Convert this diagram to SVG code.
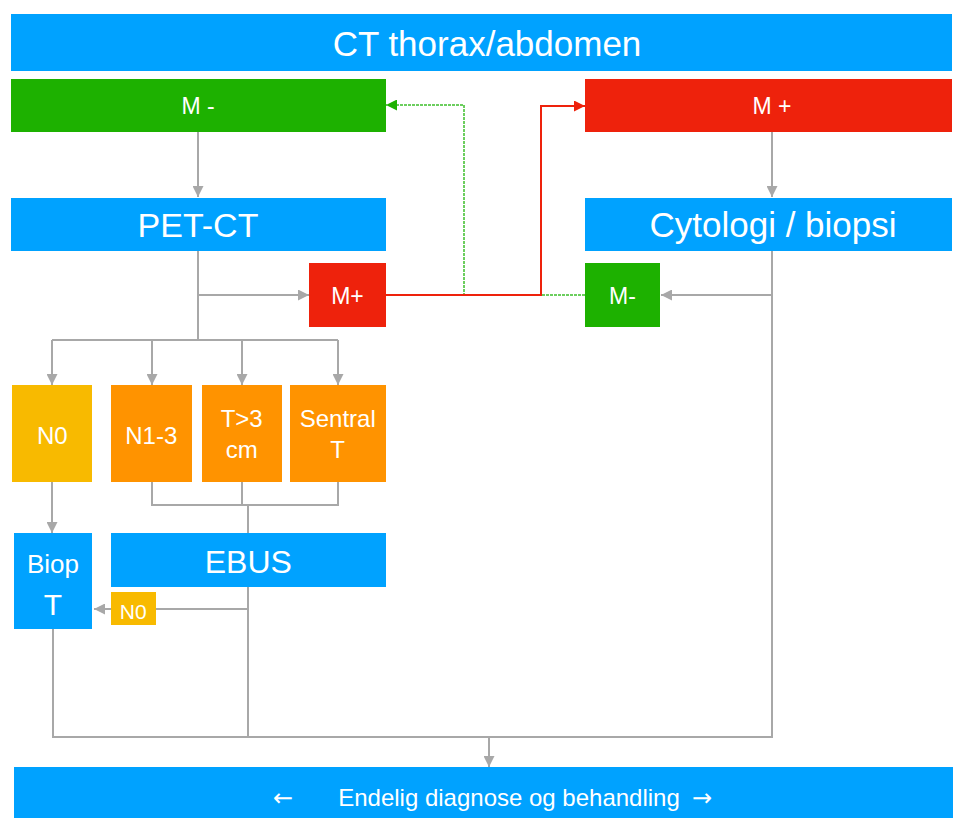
<svg xmlns="http://www.w3.org/2000/svg" width="953" height="818" viewBox="0 0 953 818">
<style>
.blue{fill:#00A2FF}.green{fill:#1DB100}.red{fill:#EE220C}.orange{fill:#FF9300}.yellow{fill:#F8BA00}
text{font-family:"Liberation Sans",Arial,Helvetica,sans-serif;fill:#fff;text-anchor:middle}
.arr{font-family:"DejaVu Sans",sans-serif}
.c{fill:none;stroke:#A8A8A8;stroke-width:2}
.cr{fill:none;stroke:#EE220C;stroke-width:2}
.cg{fill:none;stroke:#3CBF2A;stroke-width:1.5;stroke-dasharray:3 1}
</style>
<defs>
<marker id="ag" markerUnits="userSpaceOnUse" markerWidth="12" markerHeight="11" refX="11" refY="5.5" orient="auto"><path d="M0,0 L11,5.5 L0,11 z" fill="#A8A8A8"/></marker>
<marker id="ar" markerUnits="userSpaceOnUse" markerWidth="12" markerHeight="11" refX="11" refY="5.5" orient="auto"><path d="M0,0 L11,5.5 L0,11 z" fill="#EE220C"/></marker>
<marker id="agr" markerUnits="userSpaceOnUse" markerWidth="12" markerHeight="11" refX="11" refY="5.5" orient="auto"><path d="M0,0 L11,5.5 L0,11 z" fill="#1DB100"/></marker>
</defs>
<rect width="953" height="818" fill="#fff"/>
<g id="connectors">
<path class="c" d="M198,132 V197" marker-end="url(#ag)"/>
<path class="c" d="M198,251 V340"/>
<path class="c" d="M198,295 H309" marker-end="url(#ag)"/>
<path class="c" d="M52,340 H338"/>
<path class="c" d="M52,340 V385" marker-end="url(#ag)"/>
<path class="c" d="M152,340 V385" marker-end="url(#ag)"/>
<path class="c" d="M242,340 V385" marker-end="url(#ag)"/>
<path class="c" d="M338,340 V385" marker-end="url(#ag)"/>
<path class="c" d="M52,482 V533" marker-end="url(#ag)"/>
<path class="c" d="M152,482 V505 H338 V482"/>
<path class="c" d="M242,482 V505"/>
<path class="c" d="M248,505 V533"/>
<path class="c" d="M248,587 V737"/>
<path class="c" d="M248,609 H94" marker-end="url(#ag)"/>
<path class="c" d="M53,629 V737 H772 V251"/>
<path class="c" d="M489,737 V767" marker-end="url(#ag)"/>
<path class="c" d="M772,295 H661" marker-end="url(#ag)"/>
<path class="c" d="M772,132 V197" marker-end="url(#ag)"/>
<path class="cg" d="M585,295 H464 V105 H386" marker-end="url(#agr)"/>
<path class="cr" d="M386,295 H541 V106 H585" marker-end="url(#ar)"/>
</g>
<g id="ct"><rect class="blue" x="11" y="14" width="941" height="57"/><text x="487" y="56" font-size="35">CT thorax/abdomen</text></g>
<g id="mminus"><rect class="green" x="11" y="79" width="375" height="53"/><text x="198" y="114" font-size="23">M -</text></g>
<g id="mplus"><rect class="red" x="585" y="79" width="367" height="53"/><text x="772" y="114" font-size="23">M +</text></g>
<g id="petct"><rect class="blue" x="11" y="198" width="375" height="53"/><text x="198" y="237" font-size="34">PET-CT</text></g>
<g id="cytologi"><rect class="blue" x="585" y="198" width="367" height="53"/><text x="773" y="237" font-size="35">Cytologi / biopsi</text></g>
<g id="mplus2"><rect class="red" x="309" y="263" width="77" height="64"/><text x="347.5" y="304" font-size="23">M+</text></g>
<g id="mminus2"><rect class="green" x="585" y="263" width="75" height="64"/><text x="622.5" y="303.5" font-size="23">M-</text></g>
<g id="n0"><rect class="yellow" x="12" y="385" width="80" height="97"/><text x="52.3" y="443.5" font-size="24">N0</text></g>
<g id="n13"><rect class="orange" x="111" y="385" width="81" height="97"/><text x="151.3" y="443.5" font-size="24">N1-3</text></g>
<g id="t3cm"><rect class="orange" x="202" y="385" width="80" height="97"/><text x="241.7" y="427" font-size="24">T&gt;3</text><text x="241.7" y="457.5" font-size="24">cm</text></g>
<g id="sentral"><rect class="orange" x="290" y="385" width="96" height="97"/><text x="337.7" y="427" font-size="24">Sentral</text><text x="337.7" y="457.5" font-size="24">T</text></g>
<g id="ebus"><rect class="blue" x="111" y="533" width="275" height="54"/><text x="248.3" y="572.5" font-size="32">EBUS</text></g>
<g id="biop"><rect class="blue" x="14" y="533" width="78" height="96"/><text x="53" y="572.5" font-size="26">Biop</text><text x="53" y="614.5" font-size="30">T</text></g>
<g id="n0small"><rect class="yellow" x="111" y="592" width="45" height="33"/><text x="133.3" y="619" font-size="21">N0</text></g>
<g id="endelig"><rect class="blue" x="14" y="767" width="939" height="51"/><text font-size="24"><tspan class="arr" x="283" y="806">←</tspan><tspan x="509" y="806">Endelig diagnose og behandling</tspan><tspan class="arr" x="702" y="806">→</tspan></text></g>
</svg>
